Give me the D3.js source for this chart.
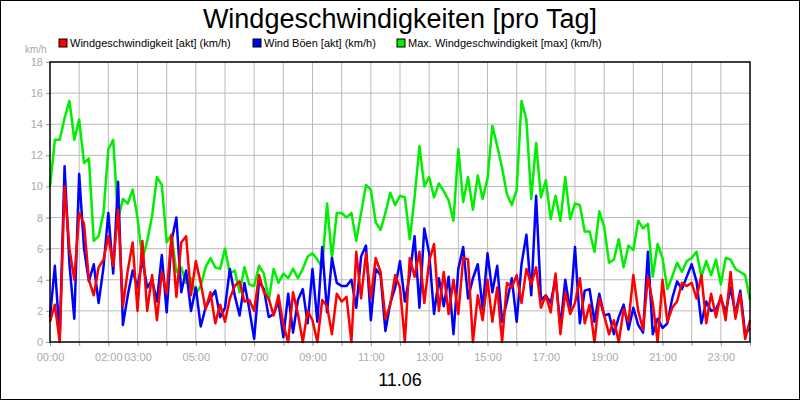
<!DOCTYPE html>
<html><head><meta charset="utf-8">
<script src="https://cdn.jsdelivr.net/npm/d3@7"></script>
<style>body{margin:0;background:#fff}svg{display:block;font-family:"Liberation Sans",Arial,sans-serif}</style>
</head><body><svg width="800" height="400"></svg>
<script>
const seriesNames=["Windgeschwindigkeit [akt] (km/h)","Wind Böen [akt] (km/h)","Max. Windgeschwindigkeit [max] (km/h)"];
const seriesColors=["#ff0000","#0000ff","#00ee00"];
const tickHours=[0,2,3,5,7,9,11,13,15,17,19,21,23];
const tickLabels=["00:00","02:00","03:00","05:00","07:00","09:00","11:00","13:00","15:00","17:00","19:00","21:00","23:00"];
const yTicks=[0,2,4,6,8,10,12,14,16,18];
const maxWind=[10,13,13,14.4,15.5,13, 14.3,11.5,11.8,6.5,6.8,8.3, 12.4,13,7.9,9.2,8.9,9.8, 8,5.3,6.5,8.1,10.6,10.1,
6.4,6.9,4.5,4.8,3.8,4.1, 3.1,3.6,4.8,5.4,4.8,4.7, 6,4.4,4.6,3.2,4.8,3.7, 3.6,4.9,4.4,2.7,4.7,3.8,
4.4,4.1,4.7,4.1,4.7,5.5, 5.7,5.3,4.8,8.9,5.4,8.3, 8.3,8,8.3,6.5,8.3,10.1, 9.8,7.7,7.2,8.3,9.6,8.8,
9.4,9.3,6.6,9.3,12.6,10, 10.6,9.3,10.2,9.7,9.1,7.8, 12.4,9,10.6,8.5,10.7,9.2, 10.5,13.9,12.6,11.2,9.5,8.8,
9.8,15.5,14.3,9.2,12.8,9.3, 10.4,7.9,9.4,7.8,10.6,7.9, 8.9,8.8,7.1,7.1,5.8,8.4, 7.4,5.1,5.3,6.6,4.8,6.2,
5.9,7.8,7.3,7.6,4.2,6.3, 5.4,3.4,4.2,5.1,4.5,5.2, 5.4,5.8,4.2,5.2,4.3,5.3, 3.7,5.4,5.3,4.7,4.5,4.3, 2.7];
const wind=[1.3,2.4,0,10,6,4, 8.3,7.6,4,3,4.8,5.3, 6.8,4.9,8.5,2.3,4.6,6.4, 2,6.5,2,4.3,1.4,4.5,
3.1,6.9,2.9,6.4,6.8,3, 5.2,3.8,2.1,3.2,1.2,2.4, 1.3,2.8,3.6,3.9,2.6,2.7, 2,4.3,3.2,2.8,1.7,3,
1.1,0,3.2,1.8,0,2, 1.4,0,2.7,2.3,0.5,3.1, 2.6,2.9,0,5.8,2.8,5.7, 2.8,5.4,4.5,1.5,2.4,4.3,
3.5,0,5.4,4.2,5.8,2.5, 5.2,6.3,2,4.5,1.8,4, 1.8,5.4,5.3,0,3,1.4, 4,1.3,3.5,0,3.8,3.5,
4.3,2.5,4.7,3.7,4.8,2.2, 3,1.9,4.4,0.5,3.2,1.8, 2.5,4.1,1.2,2.4,0,2.8, 1.7,0.5,1.4,0,2.1,1.3,
4.3,2,0.8,4.2,2.5,0, 4,1.3,2.2,2.6,3.8,3.6, 3.8,2.8,4.3,1.2,3.1,1.6, 3,1.4,4.5,1.5,3.1,0.2, 1.4];
const gusts=[1.6,4.9,0.3,11.3,5,1.5, 10.8,6,3.9,5,2.5,4.8, 8.3,4.4,10.3,1.1,3,4.6, 3.5,5.3,3.5,4,2.6,5.6,
1.9,6.5,8,3.2,4.6,2, 3.5,1,2.2,2.8,3.3,1.6, 2.2,4.7,3,1.7,3.8,2.1, 0.2,3.9,3.4,1.6,1.8,2.6,
0.3,3.1,0.6,2.7,3.4,1.2, 4.7,1.3,6.1,1.9,5.4,3.8, 3.6,3.6,4,2.2,5.5,6.2, 1.4,4.7,4.3,0.7,2.5,3.5,
5.2,2.6,4.3,6.8,2.2,7.3, 5.7,1.8,4.1,2.3,4.2,0.5, 4.7,6.1,2.8,4.1,5,2.1, 5.7,3.2,4.9,1.3,2.6,4.1,
1.3,5,6.9,3,9.4,2.7, 3,2.5,4.1,1,4,2, 6.1,1.2,3.3,3.4,1.3,3.1, 1.7,1.8,0.5,1.6,2.4,0.8,
2.2,1.1,0.6,5.8,0.5,1.5, 0.9,1.2,2.8,3.9,3.4,4.2, 5,3.9,1.2,2.6,2,2.1, 2.8,1.9,3.5,1.8,3.3,0.5, 0.9];

const svg=d3.select("svg");
svg.append("rect").attr("x",0.5).attr("y",0.5).attr("width",799).attr("height",399).attr("fill","#fff").attr("stroke","#000");
const L=50,R=750,T=62,B=342;
const x=d3.scaleLinear().domain([0,24]).range([L,R]);
const y=d3.scaleLinear().domain([0,18]).range([B,T]);
const g=svg.append("g");
g.selectAll(".vg").data(d3.range(1,24)).join("line").attr("x1",d=>x(d)).attr("x2",d=>x(d)).attr("y1",T).attr("y2",B).attr("stroke","#bbb");
g.selectAll(".hg").data(yTicks.slice(1,-1)).join("line").attr("x1",L).attr("x2",R).attr("y1",d=>y(d)).attr("y2",d=>y(d)).attr("stroke","#bbb");
// axes
const xa=svg.append("g").attr("transform",`translate(0,${B})`).call(d3.axisBottom(x).tickValues(d3.range(0,25)).tickSize(4).tickFormat(d=>{const i=tickHours.indexOf(d);return i>=0?tickLabels[i]:"";}));
const ya=svg.append("g").attr("transform",`translate(${L},0)`).call(d3.axisLeft(y).tickValues(yTicks).tickSize(4));
[xa,ya].forEach(a=>{a.select(".domain").remove();a.selectAll("line").attr("stroke","#999");a.selectAll("text").attr("fill","#aaa").attr("font-size",11).attr("font-family","Liberation Sans, Arial");});
xa.selectAll("text").attr("dy","1.1em");
const line=d3.line().x((d,i)=>x(i/6)).y(d=>y(d));
[[maxWind,2],[gusts,1],[wind,0]].forEach(([data,ci])=>{
 svg.append("path").datum(data).attr("d",line).attr("fill","none").attr("stroke",seriesColors[ci]).attr("stroke-width",2.5).attr("stroke-linejoin","round");
});
svg.append("rect").attr("x",L).attr("y",T).attr("width",R-L).attr("height",B-T).attr("fill","none").attr("stroke","#000").attr("stroke-width",1.5);
svg.append("text").attr("x",400).attr("y",28).attr("text-anchor","middle").attr("font-size",27).text("Windgeschwindigkeiten [pro Tag]");
svg.append("text").attr("x",25).attr("y",53).attr("font-size",10).attr("fill","#aaa").text("km/h");
svg.append("text").attr("x",400).attr("y",386).attr("text-anchor","middle").attr("font-size",18).text("11.06");
const legX=[59,253,397];
seriesNames.forEach((n,i)=>{
 svg.append("rect").attr("x",legX[i]).attr("y",39).attr("width",8).attr("height",8).attr("fill",seriesColors[i]).attr("stroke","#000");
 svg.append("text").attr("x",legX[i]+11).attr("y",47).attr("font-size",11).text(n);
});
</script></body></html>
